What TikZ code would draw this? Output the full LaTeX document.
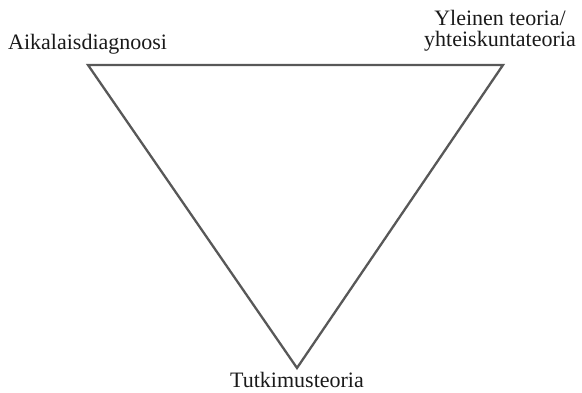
\documentclass[tikz,border=0pt]{standalone}
\usepackage{fontspec}
\setmainfont{Liberation Serif}
\definecolor{edgegray}{HTML}{585858}
\definecolor{txtgray}{HTML}{1A1A1A}
\begin{document}
\begin{tikzpicture}[x=1pt,y=1pt,
  lbl/.style={inner sep=0pt,text=txtgray,font=\fontsize{22}{22}\selectfont},
  edge/.style={draw=edgegray,line width=2.3pt,line join=miter}]
\useasboundingbox (0,0) rectangle (582,393);
\coordinate (A) at (88,328);
\coordinate (Y) at (503,328);
\coordinate (T) at (297,25);
\draw[edge] (A) -- (Y) -- (T) -- cycle;
\node[lbl,anchor=base west] (la) at (8,343) {Aikalaisdiagnoosi};
\node[lbl,anchor=base] (ly1) at (500,367) {Yleinen teoria/};
\node[lbl,anchor=base] (ly2) at (500,346) {yhteiskuntateoria};
\node[lbl,anchor=base] (lt) at (297,5) {Tutkimusteoria};
\end{tikzpicture}
\end{document}
